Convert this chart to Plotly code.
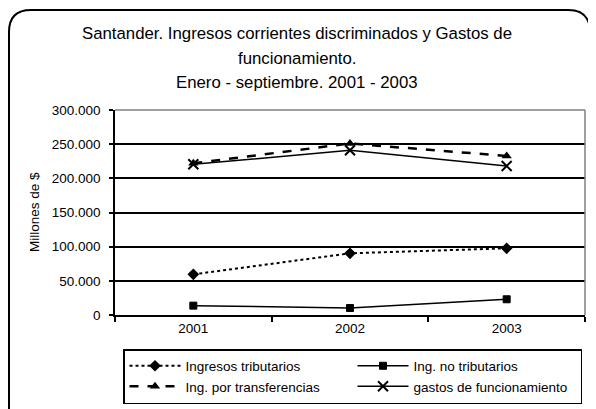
import plotly.graph_objects as go

years = ["2001", "2002", "2003"]
tributarios = [59500, 90300, 97600]
no_tributarios = [13700, 10200, 23000]
transferencias = [222000, 251000, 232700]
gastos = [220500, 241000, 218000]
y_ticks = [0, 50000, 100000, 150000, 200000, 250000, 300000]
y_labels = ["0", "50.000", "100.000", "150.000", "200.000", "250.000", "300.000"]

# the page body adds an 8px offset, so the figure is drawn 8px smaller
OFF = 8
W, H = 596 - OFF, 409 - OFF
L, R, T, B = 115 - OFF, 585 - OFF, 110 - OFF, 315 - OFF

def px(x):  # reference pixel -> paper x
    return ((x - OFF) - L) / (R - L)

def py(y):  # reference pixel -> paper y
    return (B - (y - OFF)) / (B - T)

def cx(x):  # reference pixel -> container x
    return (x - OFF) / W

def cy(y):  # reference pixel -> container y
    return 1 - (y - OFF) / H

FONT = "Liberation Sans, Arial, sans-serif"
FS = 13.5

fig = go.Figure()
fig.add_trace(go.Scatter(x=years, y=tributarios, name="Ingresos tributarios",
                         mode="lines+markers",
                         line=dict(color="black", width=2, dash="dot"),
                         marker=dict(symbol="diamond", size=9, color="black")))
fig.add_trace(go.Scatter(x=years, y=no_tributarios, name="Ing. no tributarios",
                         mode="lines+markers",
                         line=dict(color="black", width=1.5),
                         marker=dict(symbol="square", size=7, color="black",
                                     line=dict(color="black", width=1))))
fig.add_trace(go.Scatter(x=years, y=transferencias, name="Ing. por transferencias",
                         mode="lines+markers",
                         line=dict(color="black", width=2.5, dash="dash"),
                         marker=dict(symbol="triangle-up", size=9, color="black")))
fig.add_trace(go.Scatter(x=years, y=gastos, name="gastos de funcionamiento",
                         mode="lines+markers",
                         line=dict(color="black", width=1.5),
                         marker=dict(symbol="x-thin-open", size=10, color="black",
                                     line=dict(color="black", width=2))))

# rounded outer border
r = 22
x0, x1, y0, y1 = 9, 590, 10, 440
path = (f"M {px(x0)},{py(y0 + r)} "
        f"Q {px(x0)},{py(y0)} {px(x0 + r)},{py(y0)} "
        f"L {px(x1 - r)},{py(y0)} "
        f"Q {px(x1)},{py(y0)} {px(x1)},{py(y0 + r)} "
        f"L {px(x1)},{py(y1 - r)} "
        f"Q {px(x1)},{py(y1)} {px(x1 - r)},{py(y1)} "
        f"L {px(x0 + r)},{py(y1)} "
        f"Q {px(x0)},{py(y1)} {px(x0)},{py(y1 - r)} Z")

shapes = [
    dict(type="path", xref="paper", yref="paper", path=path,
         line=dict(color="black", width=2), layer="below"),
    dict(type="line", xref="paper", yref="paper", x0=0, x1=1, y0=1, y1=1,
         line=dict(color="#808080", width=1.5), layer="above"),
    dict(type="line", xref="paper", yref="paper", x0=1, x1=1, y0=0, y1=1,
         line=dict(color="#808080", width=1.5), layer="above"),
]

title_lines = [
    ("Santander. Ingresos corrientes discriminados y Gastos de", 33),
    ("funcionamiento.", 58),
    ("Enero - septiembre. 2001 - 2003", 82),
]
annotations = [dict(text=t, x=px(297), y=py(yy), xref="paper", yref="paper",
                    showarrow=False, xanchor="center", yanchor="middle",
                    font=dict(size=16.8, color="black", family=FONT))
               for t, yy in title_lines]
annotations.append(dict(text="Millones de $", x=px(34), y=py(212), xref="paper",
                        yref="paper", showarrow=False, textangle=-90,
                        xanchor="center", yanchor="middle",
                        font=dict(size=FS, color="black", family=FONT)))

fig.update_layout(
    width=W, height=H,
    margin=dict(l=L, r=W - R, t=T, b=H - B),
    paper_bgcolor="white", plot_bgcolor="white",
    font=dict(family=FONT, size=FS, color="black"),
    showlegend=True,
    legend=dict(orientation="h", xref="container", yref="container",
                x=cx(123), y=cy(349), xanchor="left", yanchor="top",
                bordercolor="black", borderwidth=1.5, bgcolor="white",
                itemwidth=51, entrywidth=162, entrywidthmode="pixels",
                font=dict(size=FS, family=FONT, color="black")),
    shapes=shapes,
    annotations=annotations,
    xaxis=dict(type="category", range=[-0.5, 2.5], showgrid=False,
               showline=True, linecolor="black", linewidth=1.5,
               ticks="outside", tickson="boundaries", ticklen=5,
               tickcolor="black", tickwidth=1.5,
               tickfont=dict(size=FS, family=FONT, color="black")),
    yaxis=dict(range=[0, 300000], tickvals=y_ticks, ticktext=y_labels,
               showgrid=True, gridcolor="black", gridwidth=1.5,
               zeroline=False, showline=True, linecolor="black", linewidth=1.5,
               ticks="outside", ticklen=4, tickcolor="black", tickwidth=1.5,
               ticklabelstandoff=6,
               tickfont=dict(size=FS, family=FONT, color="black")),
)

fig.write_html("out.html")
